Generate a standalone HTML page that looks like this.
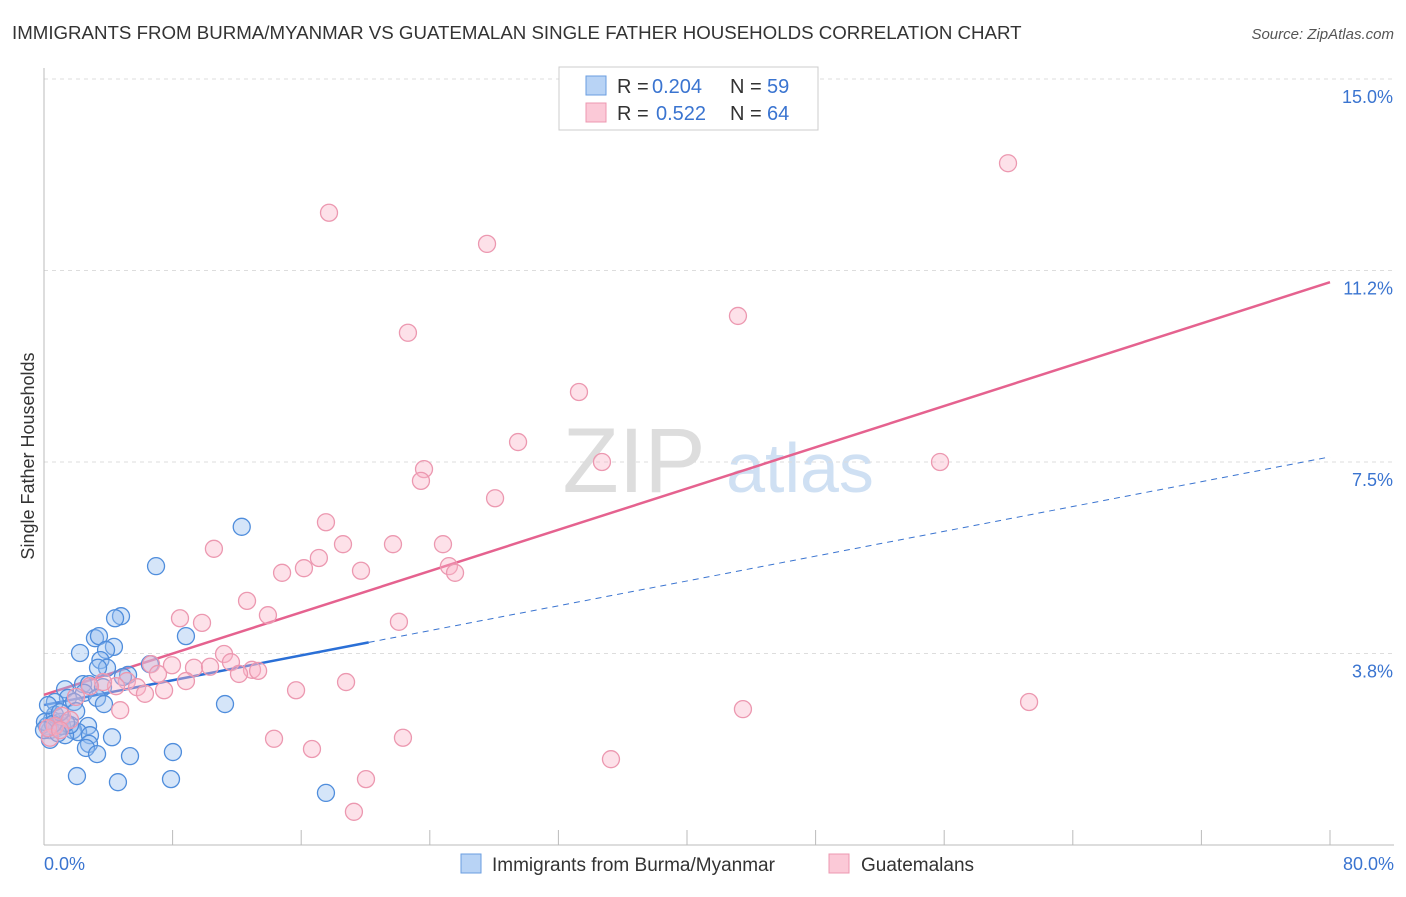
<!DOCTYPE html>
<html><head><meta charset="utf-8"><style>
body{margin:0;background:#fff;font-family:"Liberation Sans",sans-serif;}
svg text{font-family:"Liberation Sans",sans-serif;}
</style></head><body>
<svg id="c" width="1406" height="892" xmlns="http://www.w3.org/2000/svg">
<text x="12" y="39" font-size="18.7" fill="#333">IMMIGRANTS FROM BURMA/MYANMAR VS GUATEMALAN SINGLE FATHER HOUSEHOLDS CORRELATION CHART</text>
<text x="1394" y="39" font-size="15" fill="#555" font-style="italic" text-anchor="end">Source: ZipAtlas.com</text>
<text x="34" y="456" font-size="18" fill="#333" text-anchor="middle" transform="rotate(-90 34 456)">Single Father Households</text>
<g>
<text x="634" y="492" font-size="92" fill="#ddd" text-anchor="middle" font-family="Liberation Serif,serif">ZIP</text>
<text x="800" y="492" font-size="70" fill="#cfe0f3" text-anchor="middle">atlas</text>
</g>
<g id="grid"></g><g id="axes"></g><g id="lines"></g><g id="pts"></g>
<g>
<rect x="559" y="67" width="259" height="63" fill="#fff" stroke="#ccc"/>
<rect x="586" y="76" width="20" height="19" fill="#b8d3f5" stroke="#6a9ee0"/>
<rect x="586" y="103" width="20" height="19" fill="#fbc9d7" stroke="#ec98b0"/>
<text x="617" y="93" font-size="20" fill="#333">R =</text>
<text x="652" y="93" font-size="20" fill="#3a74d0">0.204</text>
<text x="730" y="93" font-size="20" fill="#333">N =</text>
<text x="767" y="93" font-size="20" fill="#3a74d0">59</text>
<text x="617" y="120" font-size="20" fill="#333">R =</text>
<text x="656" y="120" font-size="20" fill="#3a74d0">0.522</text>
<text x="730" y="120" font-size="20" fill="#333">N =</text>
<text x="767" y="120" font-size="20" fill="#3a74d0">64</text>
</g>
<g>
<rect x="461" y="854" width="20" height="19" fill="#b8d3f5" stroke="#6a9ee0"/>
<text x="492" y="871" font-size="19" fill="#333">Immigrants from Burma/Myanmar</text>
<rect x="829" y="854" width="20" height="19" fill="#fbc9d7" stroke="#ec98b0"/>
<text x="861" y="871" font-size="19" fill="#333">Guatemalans</text>
</g>
</svg>
<script>
const yTicks=[3.75,7.5,11.25,15];
const yTickLabels=["3.8%","7.5%","11.2%","15.0%"];
const xTicks=[0,8,16,24,32,40,48,56,64,72,80];
const blueX=[12.3,6.97,4.79,4.42,8.83,3.17,3.42,4.35,2.24,3.86,3.51,3.92,3.36,6.59,5.23,4.91,2.43,2.8,1.31,3.67,2.49,1.49,3.3,1.87,3.73,0.68,11.26,2.0,0.5,1.0,2.74,0.19,0.37,0.81,1.8,2.12,1.31,2.86,4.23,2.8,2.61,3.3,5.35,8.02,2.05,4.6,7.9,17.54,0.37,0.06,1.12,0.68,0.25,1.62,1.37,0.87,0.56,1.0,0];
const blueY=[6.23,5.46,4.48,4.44,4.09,4.05,4.09,3.88,3.76,3.82,3.62,3.47,3.47,3.54,3.33,3.29,3.15,3.15,3.05,3.09,2.98,2.88,2.88,2.8,2.76,2.8,2.76,2.62,2.45,2.41,2.33,2.33,2.25,2.29,2.25,2.21,2.15,2.15,2.11,1.98,1.9,1.78,1.74,1.82,1.35,1.23,1.29,1.02,2.06,2.41,2.33,2.55,2.74,2.35,2.39,2.19,2.37,2.6,2.25];
const pinkX=[59.97,17.73,27.56,22.64,43.17,33.28,29.49,34.71,55.74,23.64,23.45,28.06,17.54,18.6,21.71,24.82,10.57,17.1,16.17,14.81,19.72,25.19,25.57,12.63,13.93,8.46,9.83,22.08,6.66,11.2,7.96,9.33,10.33,11.63,12.94,13.32,12.13,7.09,5.16,8.83,5.79,7.47,6.28,18.79,15.68,4.48,3.67,2.86,4.74,43.48,61.28,14.31,16.67,22.33,35.27,20.03,19.28,1.99,1.12,0.68,0.37,0.25,1.62,1.0];
const pinkY=[13.35,12.38,11.77,10.03,10.36,8.87,7.89,7.5,7.5,7.36,7.13,6.79,6.32,5.89,5.89,5.89,5.8,5.62,5.42,5.33,5.37,5.46,5.33,4.78,4.5,4.44,4.35,4.37,3.54,3.74,3.52,3.47,3.49,3.58,3.43,3.41,3.35,3.35,3.21,3.21,3.09,3.03,2.96,3.19,3.03,3.11,3.19,3.11,2.64,2.66,2.8,2.08,1.88,2.1,1.68,1.29,0.65,2.9,2.53,2.33,2.1,2.29,2.45,2.25];
const pinkTrend=[2.94,11.02];
const blueTrend=[2.74,7.6];
const blueSolidEnd=20.2;
const X=v=>44+v*(1286/80), Y=v=>845-v*51.07;
const NS="http://www.w3.org/2000/svg";
function mk(p,t,a){const e=document.createElementNS(NS,t);for(const k in a)e.setAttribute(k,a[k]);document.getElementById(p).appendChild(e);return e;}
yTicks.forEach((t,i)=>{
 const l=mk('grid','line',{x1:44,x2:1394,y1:Y(t),y2:Y(t),stroke:'#ddd','stroke-dasharray':'4,4'});
 
 
 const tx=mk('grid','text',{x:1393,y:Y(t)+24,'font-size':18,fill:'#3a74d0','text-anchor':'end'});
 tx.textContent=yTickLabels[i];
 
 
});
const ax=mk('axes','line',{x1:44,x2:44,y1:68,y2:845,stroke:'#bbb'});


const bx=mk('axes','line',{x1:44,x2:1394,y1:845,y2:845,stroke:'#bbb'});


xTicks.forEach(t=>{
 const l=mk('axes','line',{x1:X(t),x2:X(t),y1:830,y2:845,stroke:'#bbb'});
 
 
});
const x0=mk('axes','text',{x:44,y:870,'font-size':18,fill:'#3a74d0'});x0.textContent='0.0%';


const x1=mk('axes','text',{x:1394,y:870,'font-size':18,fill:'#3a74d0','text-anchor':'end'});x1.textContent='80.0%';


blueX.forEach((v,i)=>{const c=mk('pts','circle',{cx:X(v),cy:Y(blueY[i]),r:8.5,fill:'rgba(150,190,240,0.4)',stroke:'#4f8ddc','stroke-width':1.3});
 
 });
pinkX.forEach((v,i)=>{const c=mk('pts','circle',{cx:X(v),cy:Y(pinkY[i]),r:8.5,fill:'rgba(250,180,200,0.4)',stroke:'#ec98b0','stroke-width':1.3});
 
 });
const bt=v=>blueTrend[0]+(blueTrend[1]-blueTrend[0])*v/80;
const bd=mk('lines','line',{x1:X(blueSolidEnd),y1:Y(bt(blueSolidEnd)),x2:X(80),y2:Y(blueTrend[1]),stroke:'#3a74d0','stroke-width':1,'stroke-dasharray':'6,5'});


const bs=mk('lines','line',{x1:X(0),y1:Y(blueTrend[0]),x2:X(blueSolidEnd),y2:Y(bt(blueSolidEnd)),stroke:'#2a6fd6','stroke-width':2.5});


const pt=mk('lines','line',{x1:X(0),y1:Y(pinkTrend[0]),x2:X(80),y2:Y(pinkTrend[1]),stroke:'#e5628f','stroke-width':2.5});


</script>
</body></html>
